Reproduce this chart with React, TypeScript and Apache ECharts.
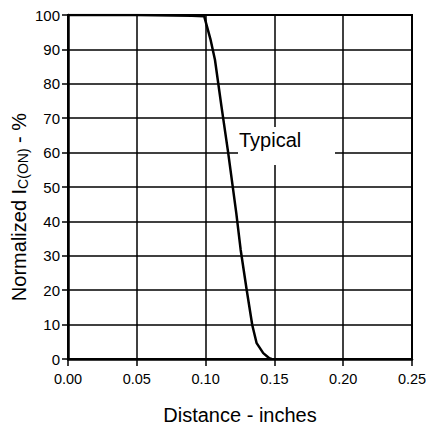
import React, { useEffect, useRef } from "react";
import * as echarts from "echarts";

const distance = [0, 0.05, 0.09, 0.099, 0.1035, 0.1068, 0.1115, 0.1163, 0.1223, 0.1255, 0.1299, 0.1339, 0.1371, 0.1419, 0.1463, 0.148];
const normalizedIc = [100, 100, 99.8, 99.6, 93, 87, 73.5, 60.3, 42.4, 31.7, 20, 9.9, 4.6, 1.7, 0.2, 0];
const xTicks = [0, 0.05, 0.1, 0.15, 0.2, 0.25];
const yTicks = [0, 10, 20, 30, 40, 50, 60, 70, 80, 90, 100];

const tickFont = "'Liberation Sans Narrow', 'Liberation Sans', Arial, sans-serif";
const textFont = "'Liberation Sans', Arial, sans-serif";

export default function App() {
  const ref = useRef<HTMLDivElement>(null);
  useEffect(() => {
    document.body.style.margin = "0";
    if (!ref.current) return;
    const chart = echarts.init(ref.current, null, { renderer: "svg" });
    chart.setOption({
      animation: false,
      backgroundColor: "#ffffff",
      grid: {
        left: 68,
        right: 14,
        top: 15,
        bottom: 67,
        show: true,
        borderColor: "#000",
        borderWidth: 2,
        outerBoundsMode: "none",
        containLabel: false,
      },
      xAxis: {
        type: "value",
        min: xTicks[0],
        max: xTicks[xTicks.length - 1],
        interval: 0.05,
        axisLine: { show: true, lineStyle: { color: "#000", width: 2.5 } },
        axisTick: { show: true, length: 7, lineStyle: { color: "#000", width: 1.5 } },
        splitLine: { show: true, lineStyle: { color: "#000", width: 1.5 } },
        axisLabel: {
          margin: 12,
          color: "#000",
          fontFamily: tickFont,
          fontSize: 14.5,
          formatter: (v: number) => v.toFixed(2),
        },
        name: "Distance - inches",
        nameLocation: "middle",
        nameGap: 46,
        nameTextStyle: { color: "#000", fontFamily: textFont, fontSize: 20, lineHeight: 20 },
      },
      yAxis: {
        type: "value",
        min: yTicks[0],
        max: yTicks[yTicks.length - 1],
        interval: 10,
        axisLine: { show: true, lineStyle: { color: "#000", width: 2.5 } },
        axisTick: { show: true, length: 6, lineStyle: { color: "#000", width: 1.5 } },
        splitLine: { show: true, lineStyle: { color: "#000", width: 1.5 } },
        axisLabel: {
          margin: 8,
          color: "#000",
          fontFamily: tickFont,
          fontSize: 15,
        },
      },
      graphic: [
        {
          type: "text",
          x: 19,
          y: 207,
          rotation: Math.PI / 2,
          style: {
            text: "{m|Normalized I}{s|C(ON)}{m| - %}",
            align: "center",
            verticalAlign: "middle",
            rich: {
              m: { fontFamily: textFont, fontSize: 20, fill: "#000" },
              s: { fontFamily: textFont, fontSize: 14, fill: "#000", padding: [8, 0, 0, 0] },
            },
          },
        },
        {
          type: "rect",
          shape: { x: 238, y: 127, width: 97, height: 38 },
          style: { fill: "#fff" },
          z: 10,
        },
        {
          type: "text",
          x: 239,
          y: 140,
          z: 11,
          style: {
            text: "Typical",
            fontFamily: textFont,
            fontSize: 20,
            fill: "#000",
            verticalAlign: "middle",
          },
        },
      ],
      series: [
        {
          type: "line",
          data: distance.map((d, i) => [d, normalizedIc[i]]),
          showSymbol: false,
          symbol: "none",
          lineStyle: { color: "#000", width: 2.5 },
          z: 5,
        },
      ],
    });
    return () => chart.dispose();
  }, []);
  return <div ref={ref} style={{ width: 426, height: 426 }} />;
}
